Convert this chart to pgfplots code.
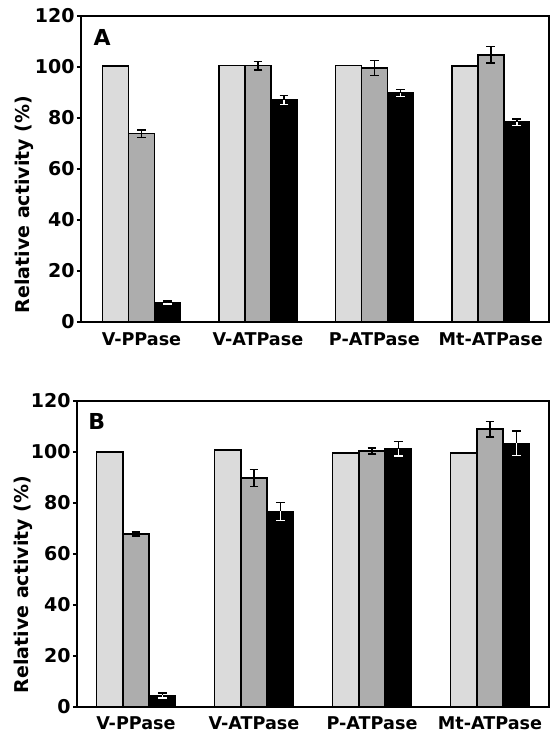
\documentclass[border=0pt]{standalone}
\usepackage{fontspec}
\setmainfont{DejaVu Sans}
\usepackage{pgfplots}
\pgfplotsset{compat=1.18}
\pgfplotsset{
  panel/.style={
    scale only axis,
    ybar, bar width=0.223,
    ymin=0, ymax=120, ytick={0,20,...,120},
    xmin=-0.52, xmax=3.5,
    xtick={0,1,2,3},
    xticklabels={V-PPase,V-ATPase,P-ATPase,Mt-ATPase},
    major x tick style={draw=none},
    ytick pos=left,
    tick align=outside,
    major tick length=2pt,
    tick style={line width=0.8pt, black},
    axis line style={line width=1pt},
    /pgf/number format/assume math mode=true,
    yticklabel style={font=\fontsize{9.5}{10}\selectfont\bfseries, inner xsep=1pt},
    xticklabel style={font=\fontsize{8.8}{10}\selectfont\bfseries},
    ylabel={Relative activity (\%)},
    ylabel style={font=\fontsize{9.5}{10}\selectfont\bfseries, anchor=center},
    clip=false,
  },
  eb/.style={error bars/.cd, y dir=both, y explicit,
    error bar style={line width=0.8pt, black},
    error mark options={rotate=90, mark size=2.2pt, line width=0.8pt, black}},
  ebplus/.style={error bars/.cd, y dir=plus, y explicit,
    error bar style={line width=0.8pt, black},
    error mark options={rotate=90, mark size=2.2pt, line width=0.8pt, black}},
  ebminus/.style={error bars/.cd, y dir=minus, y explicit,
    error bar style={line width=0.8pt, white},
    error mark options={rotate=90, mark size=2.2pt, line width=0.8pt, white}},
  b1/.style={fill=black!14, draw=black, line width=0.75pt, bar shift=-0.223},
  b2/.style={fill=black!32, draw=black, line width=0.75pt, bar shift=0},
  b3/.style={fill=black, draw=black, line width=0.75pt, bar shift=0.223},
}
\begin{document}
\begin{tikzpicture}
\useasboundingbox (0,0) rectangle (275pt,-367pt);
% Panel A
\begin{axis}[panel, at={(40.5pt,-8pt)}, anchor=north west,
  width=234pt, height=153pt,
  ylabel style={at={(axis description cs:-0.122,0.384)}}]
\addplot[b1] coordinates {(0,100.3) (1,100.6) (2,100.6) (3,100.3)};
\addplot[b2, eb] coordinates {(0,73.9) +- (0,1.5) (1,100.5) +- (0,1.6) (2,99.6) +- (0,3.0) (3,104.8) +- (0,3.3)};
\addplot[b3, ebplus] coordinates {(0,7.6) +- (0,0.6) (1,87.1) +- (0,1.8) (2,89.8) +- (0,1.4) (3,78.4) +- (0,1.3)};
\addplot[draw=none, fill=none, bar shift=0.223, forget plot, ebminus] coordinates {(0,7.6) +- (0,0.6) (1,87.1) +- (0,1.8) (2,89.8) +- (0,1.4) (3,78.4) +- (0,1.3)};
\node[anchor=north west, inner sep=0pt, font=\fontsize{11}{12}\selectfont\bfseries] at (axis description cs:0.026,0.958) {A};
\end{axis}
% Panel B
\begin{axis}[panel, at={(38.5pt,-200.5pt)}, anchor=north west,
  width=236pt, height=153pt, xmin=-0.5, xmax=3.5,
  xticklabel style={yshift=0.5pt},
  ylabel style={at={(axis description cs:-0.114,0.40)}}]
\addplot[b1] coordinates {(0,100.1) (1,100.7) (2,99.7) (3,99.7)};
\addplot[b2, eb] coordinates {(0,67.9) +- (0,0.8) (1,89.8) +- (0,3.4) (2,100.4) +- (0,1.2) (3,109.0) +- (0,3.0)};
\addplot[b3, ebplus] coordinates {(0,4.6) +- (0,1.0) (1,76.7) +- (0,3.5) (2,101.3) +- (0,2.8) (3,103.4) +- (0,4.8)};
\addplot[draw=none, fill=none, bar shift=0.223, forget plot, ebminus] coordinates {(0,4.6) +- (0,1.0) (1,76.7) +- (0,3.5) (2,101.3) +- (0,2.8) (3,103.4) +- (0,4.8)};
\node[anchor=north west, inner sep=0pt, font=\fontsize{11}{12}\selectfont\bfseries] at (axis description cs:0.023,0.961) {B};
\end{axis}
\end{tikzpicture}
\end{document}
